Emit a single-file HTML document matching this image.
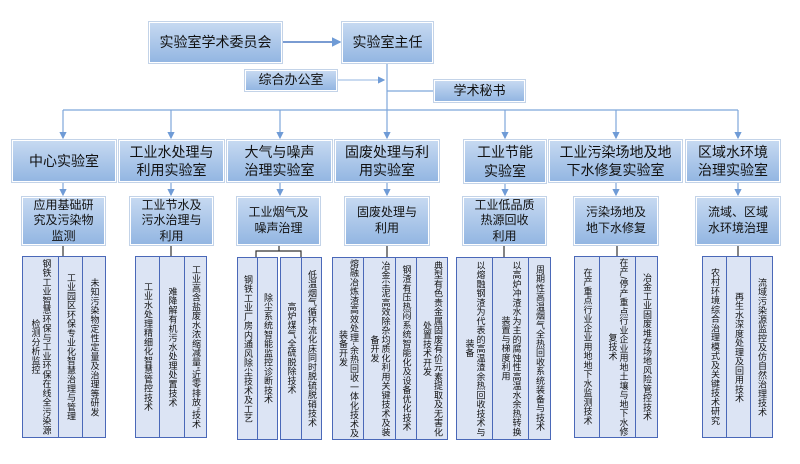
<!DOCTYPE html>
<html><head><meta charset="utf-8"><style>
*{margin:0;padding:0}
body{width:800px;height:464px;background:#fff;position:relative;overflow:hidden;font-family:"Liberation Sans","Noto Sans CJK SC",sans-serif;color:#111}
.b{position:absolute;box-sizing:border-box;background:linear-gradient(#c6d9f1,#93b6e2);border:1px solid #fff;outline:1px solid #c3d3e8;display:flex;align-items:center;justify-content:center;text-align:center;line-height:1.3}
.v{position:absolute;box-sizing:border-box;border:1.5px solid #4a68b8;background:#dce4f4;writing-mode:vertical-rl;text-align:center;font-size:9px;line-height:11px;display:flex;align-items:center;justify-content:center;padding:0 1px;letter-spacing:0.25px}
svg{position:absolute;left:0;top:0}
</style></head><body>
<svg width="800" height="464">
<defs><marker id="a" markerWidth="6" markerHeight="6" refX="5" refY="3" orient="auto"><path d="M0,0L6,3L0,6z" fill="#6f9bd6"/></marker></defs>
<g stroke="#7ea6da" stroke-width="1.2" fill="none">
<line x1="282" y1="42" x2="340" y2="42" stroke="#4f7cc4" stroke-width="1.6" marker-end="url(#a)"/>
<line x1="387" y1="63" x2="387" y2="138" marker-end="url(#a)"/>
<line x1="337" y1="80" x2="384" y2="80" stroke="#a9c4e8" marker-end="url(#a)"/>
<line x1="387" y1="91" x2="434" y2="91"/>
<line x1="63" y1="110" x2="738" y2="110"/>
<line x1="63" y1="110" x2="63" y2="138" marker-end="url(#a)"/>
<line x1="171" y1="110" x2="171" y2="138" marker-end="url(#a)"/>
<line x1="280" y1="110" x2="280" y2="138" marker-end="url(#a)"/>
<line x1="505" y1="110" x2="505" y2="138" marker-end="url(#a)"/>
<line x1="616" y1="110" x2="616" y2="138" marker-end="url(#a)"/>
<line x1="738" y1="110" x2="738" y2="138" marker-end="url(#a)"/>
<line x1="63" y1="183" x2="63" y2="195" marker-end="url(#a)"/>
<line x1="171" y1="183" x2="171" y2="195" marker-end="url(#a)"/>
<line x1="280" y1="183" x2="280" y2="195" marker-end="url(#a)"/>
<line x1="387" y1="183" x2="387" y2="195" marker-end="url(#a)"/>
<line x1="505" y1="183" x2="505" y2="195" marker-end="url(#a)"/>
<line x1="616" y1="183" x2="616" y2="195" marker-end="url(#a)"/>
<line x1="738" y1="183" x2="738" y2="195" marker-end="url(#a)"/>
</g>
<g stroke="#333" stroke-width="1.2" fill="none">
<line x1="63" y1="245" x2="63" y2="256"/>
<line x1="171" y1="245" x2="171" y2="256"/>
<path d="M279,245V251M256,257V251H301V257"/>
<line x1="387" y1="245" x2="387" y2="257"/>
<line x1="504" y1="245" x2="504" y2="257"/>
<line x1="617" y1="245" x2="617" y2="256"/>
<line x1="738" y1="245" x2="738" y2="256"/>
</g>
</svg>
<div class="b" style="left:149px;top:22px;width:133px;height:41px;font-size:14px">实验室学术委员会</div>
<div class="b" style="left:342px;top:22px;width:91px;height:41px;font-size:14px">实验室主任</div>
<div class="b" style="left:245px;top:70px;width:92px;height:21px;font-size:13px">综合办公室</div>
<div class="b" style="left:434px;top:80px;width:91px;height:22px;font-size:13px">学术秘书</div>

<div class="b" style="left:12px;top:140px;width:104px;height:42px;font-size:14px">中心实验室</div>
<div class="b" style="left:119px;top:140px;width:105px;height:42px;font-size:14px">工业水处理与<br>利用实验室</div>
<div class="b" style="left:227px;top:140px;width:105px;height:42px;font-size:14px">大气与噪声<br>治理实验室</div>
<div class="b" style="left:335px;top:140px;width:104px;height:42px;font-size:14px">固废处理与利<br>用实验室</div>
<div class="b" style="left:464px;top:140px;width:82px;height:43px;font-size:14px">工业节能<br>实验室</div>
<div class="b" style="left:549px;top:140px;width:133px;height:42px;font-size:14px">工业污染场地及地<br>下水修复实验室</div>
<div class="b" style="left:686px;top:140px;width:94px;height:42px;font-size:14px">区域水环境<br>治理实验室</div>

<div class="b" style="left:22px;top:197px;width:83px;height:48px;font-size:12px">应用基础研<br>究及污染物<br>监测</div>
<div class="b" style="left:130px;top:197px;width:83px;height:48px;font-size:12px">工业节水及<br>污水治理与<br>利用</div>
<div class="b" style="left:237px;top:197px;width:83px;height:48px;font-size:12px">工业烟气及<br>噪声治理</div>
<div class="b" style="left:345px;top:197px;width:84px;height:48px;font-size:12px">固废处理与<br>利用</div>
<div class="b" style="left:463px;top:197px;width:83px;height:48px;font-size:12px">工业低品质<br>热源回收<br>利用</div>
<div class="b" style="left:574px;top:197px;width:84px;height:48px;font-size:12px">污染场地及<br>地下水修复</div>
<div class="b" style="left:696px;top:197px;width:84px;height:48px;font-size:12px">流域、区域<br>水环境治理</div>

<div class="v" style="left:22px;top:256px;width:37px;height:182px">钢铁工业智慧环保与工业环保在线全污染源检测分析监控</div>
<div class="v" style="left:58px;top:256px;width:25px;height:182px">工业园区环保专业化智慧治理与管理</div>
<div class="v" style="left:82px;top:256px;width:24px;height:182px">未知污染物定性定量及治理等研发</div>

<div class="v" style="left:135px;top:256px;width:25px;height:182px">工业水处理精细化智慧管控技术</div>
<div class="v" style="left:159px;top:256px;width:26px;height:182px">难降解有机污水处理处置技术</div>
<div class="v" style="left:184px;top:256px;width:23px;height:182px">工业高含盐废水浓缩减量“近零排放”技术</div>

<div class="v" style="left:237px;top:257px;width:21px;height:183px">钢铁工业厂房内通风除尘技术及工艺</div>
<div class="v" style="left:257px;top:257px;width:21px;height:183px">除尘系统智能监控诊断技术</div>
<div class="v" style="left:280px;top:257px;width:22px;height:183px">高炉煤气全硫脱除技术</div>
<div class="v" style="left:301px;top:257px;width:21px;height:183px">低温烟气循环流化床同时脱硫脱硝技术</div>

<div class="v" style="left:332px;top:257px;width:32px;height:183px">熔融冶炼渣高效处理-余热回收一体化技术及装备开发</div>
<div class="v" style="left:363px;top:257px;width:33px;height:183px">冶金尘泥高效除杂均质化利用关键技术及装备开发</div>
<div class="v" style="left:395px;top:257px;width:22px;height:183px">钢渣有压热闷系统智能化及设备优化技术</div>
<div class="v" style="left:416px;top:257px;width:32px;height:183px">典型有色贵金属固废有价元素提取及无害化处置技术开发</div>

<div class="v" style="left:456px;top:257px;width:37px;height:183px">以熔融钢渣为代表的高温渣余热回收技术与装备</div>
<div class="v" style="left:492px;top:257px;width:37px;height:183px">以高炉冲渣水为主的腐蚀性高温水余热转换装置与梯度利用</div>
<div class="v" style="left:528px;top:257px;width:23px;height:183px">周期性高温烟气全热回收系统装备与技术</div>

<div class="v" style="left:574px;top:256px;width:26px;height:182px">在产重点行业企业用地地下水监测技术</div>
<div class="v" style="left:599px;top:256px;width:37px;height:182px">在产/停产重点行业企业用地土壤与地下水修复技术</div>
<div class="v" style="left:635px;top:256px;width:23px;height:182px">冶金工业固废堆存场地风险管控技术</div>

<div class="v" style="left:702px;top:256px;width:25px;height:182px">农村环境综合治理模式及关键技术研究</div>
<div class="v" style="left:726px;top:256px;width:25px;height:182px">再生水深度处理及回用技术</div>
<div class="v" style="left:750px;top:256px;width:23px;height:182px">流域污染源监控及仿自然治理技术</div>
</body></html>
